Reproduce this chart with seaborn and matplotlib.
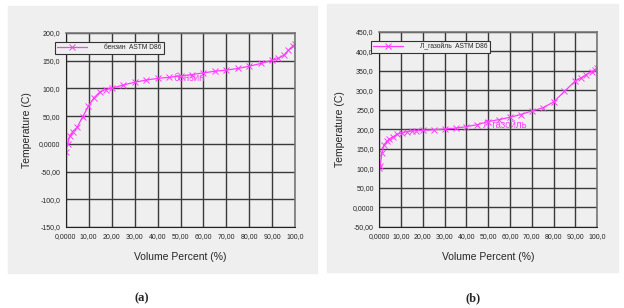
import matplotlib
matplotlib.use("Agg")
import matplotlib.pyplot as plt
import seaborn as sns
from matplotlib.patches import Rectangle
from matplotlib.ticker import MultipleLocator

# (a) бензин ASTM D86
vol_a = [0, 0.9, 1.7, 3, 5, 7.4, 9.9, 12.3, 15, 17.4, 20, 25, 30, 35, 40, 45, 50,
         55, 60, 65, 70, 75, 80, 85, 90, 92.5, 95, 97, 99, 100]
temp_a = [-14, 0, 14, 22, 30, 49, 68, 83, 94, 98, 100, 106, 111, 115, 118, 120, 122.5,
          125, 128, 131, 133, 136, 140, 145, 151, 154, 160, 169, 177, 180]

# (b) Л_газойль ASTM D86
vol_b = [0, 0.3, 1.2, 2.1, 3.4, 4.6, 6.4, 8, 10.3, 12.6, 15, 17, 20, 25, 30, 35, 40,
         45, 50, 55, 60, 65, 70, 75, 80, 85, 90, 92.5, 95, 97.5, 99, 100]
temp_b = [100, 105, 139, 160, 169, 175, 181, 187, 191.5, 194, 196, 197, 197.5, 199,
          201, 203, 207, 212, 220, 225, 231, 238, 247, 255, 270, 297, 324, 331, 340,
          348, 352, 358]

x_ticks = [0, 10, 20, 30, 40, 50, 60, 70, 80, 90, 100]
x_labels = ["0,0000", "10,00", "20,00", "30,00", "40,00", "50,00", "60,00",
            "70,00", "80,00", "90,00", "100,0"]
y_ticks_a = [-150, -100, -50, 0, 50, 100, 150, 200]
y_labels_a = ["-150,0", "-100,0", "-50,00", "0,0000", "50,00", "100,0", "150,0", "200,0"]
y_ticks_b = [-50, 0, 50, 100, 150, 200, 250, 300, 350, 400, 450]
y_labels_b = ["-50,00", "0,0000", "50,00", "100,0", "150,0", "200,0", "250,0",
              "300,0", "350,0", "400,0", "450,0"]

sns.set_style("white")
plt.rcParams["font.family"] = ["Liberation Sans", "DejaVu Sans"]

pink = "#ff3cff"
panel_bg = "#efefef"

fig = plt.figure(figsize=(6.24, 3.08), dpi=100)
fig.patches.append(Rectangle((8 / 624, 1 - 273 / 308), 309 / 624, 267 / 308,
                             transform=fig.transFigure, color=panel_bg, zorder=-5))
fig.patches.append(Rectangle((327 / 624, 1 - 272 / 308), 291 / 624, 268 / 308,
                             transform=fig.transFigure, color=panel_bg, zorder=-5))

ax_a = fig.add_axes([0.1053, 0.263, 0.368, 0.630])
ax_b = fig.add_axes([0.6079, 0.263, 0.3489, 0.634])


def draw(ax, x, y, name, yticks, ylabels, ylim, xminor, yminor):
    ax.set_facecolor(panel_bg)
    sns.lineplot(x=x, y=y, ax=ax, color=pink, marker="x", markersize=4,
                 markeredgecolor=pink, markeredgewidth=0.7, linewidth=0.9,
                 label=name, legend=False)
    ax.set_xlim(0, 100)
    ax.set_ylim(*ylim)
    ax.set_xticks(x_ticks)
    ax.set_xticklabels(x_labels, fontsize=5)
    ax.set_yticks(yticks)
    ax.set_yticklabels(ylabels, fontsize=5)
    ax.xaxis.set_minor_locator(MultipleLocator(xminor))
    ax.yaxis.set_minor_locator(MultipleLocator(yminor))
    ax.tick_params(which="major", length=2.5, width=0.6, pad=1.5, color="#333333")
    ax.tick_params(which="minor", length=1.5, width=0.4, color="#333333")
    ax.grid(True, which="major", color="#3a3a3a", linewidth=1.0)
    for side in ["left", "bottom"]:
        ax.spines[side].set_color("#222222")
        ax.spines[side].set_linewidth(0.8)
    for side in ["right", "top"]:
        ax.spines[side].set_color("#777777")
        ax.spines[side].set_linewidth(1.2)
    ax.set_xlabel("Volume Percent (%)", fontsize=7.5, labelpad=9)
    ax.set_ylabel("Temperature (C)", fontsize=7.5, labelpad=5)


draw(ax_a, vol_a, temp_a, "бензин  ASTM D86", y_ticks_a, y_labels_a, (-150, 200), 1, 5)
draw(ax_b, vol_b, temp_b, "Л_газойль  ASTM D86", y_ticks_b, y_labels_b, (-50, 450), 1, 5)

ax_a.text(47, 119, "бензин", color=pink, fontsize=7, va="center", ha="left",
          zorder=10)
ax_b.text(47.5, 212, "Л газойль", color=pink, fontsize=7, va="center", ha="left",
          zorder=10)

leg_a = ax_a.legend(loc="upper left", bbox_to_anchor=(55 / 624, 1 - 42 / 308),
                    bbox_transform=fig.transFigure, fontsize=4.8, frameon=True,
                    fancybox=False, handlelength=4.5, borderpad=0.35,
                    borderaxespad=0, handletextpad=2.5)
leg_b = ax_b.legend(loc="upper left", bbox_to_anchor=(371 / 624, 1 - 41 / 308),
                    bbox_transform=fig.transFigure, fontsize=4.8, frameon=True,
                    fancybox=False, handlelength=4.5, borderpad=0.35,
                    borderaxespad=0, handletextpad=2.5)
for leg in (leg_a, leg_b):
    leg.get_frame().set_edgecolor("#333333")
    leg.get_frame().set_linewidth(0.8)
    leg.get_frame().set_facecolor(panel_bg)
    leg.get_frame().set_alpha(1)

fig.text(142 / 624, 1 - 298 / 308, "(a)", fontsize=9, fontweight="bold",
         family=["Liberation Serif", "DejaVu Serif"], ha="center", va="center")
fig.text(473 / 624, 1 - 298 / 308, "(b)", fontsize=9, fontweight="bold",
         family=["Liberation Serif", "DejaVu Serif"], ha="center", va="center")

fig.savefig("out.png", dpi=100)
